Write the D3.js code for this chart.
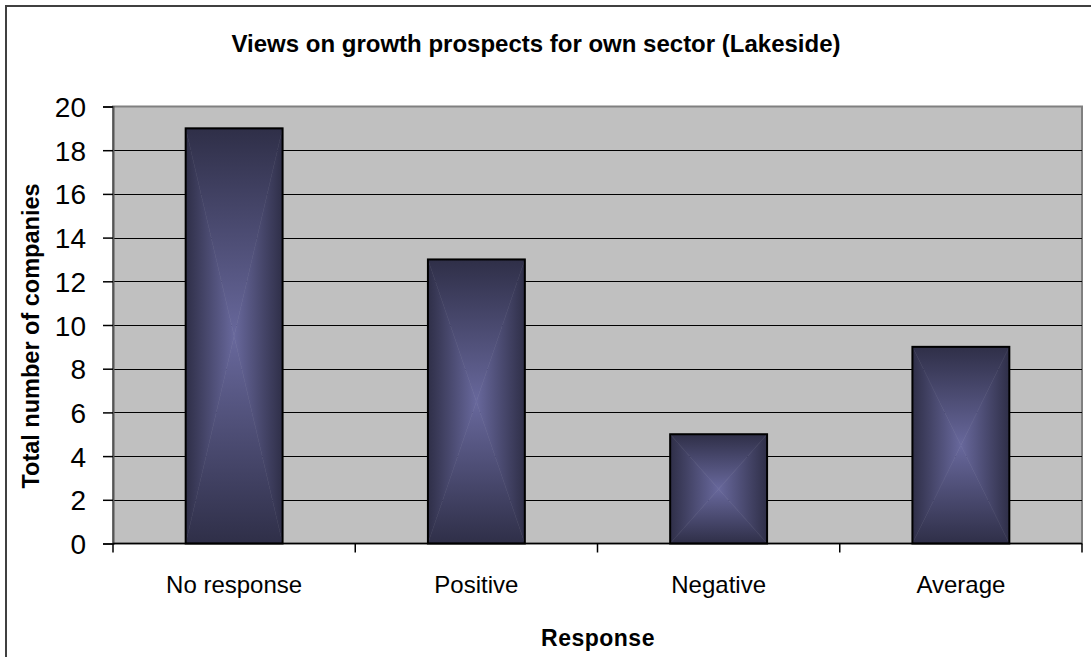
<!DOCTYPE html>
<html>
<head>
<meta charset="utf-8">
<script src="https://cdn.jsdelivr.net/npm/d3@7"></script>
<style>
  body { margin: 0; background: #fff; }
  svg text { font-family: "Liberation Sans", Arial, sans-serif; fill: #000; }
</style>
</head>
<body>
<div id="chart"></div>
<script>
// chart values
const categories = ['No response', 'Positive', 'Negative', 'Average'];
const values = [19, 13, 5, 9];
const yTicks = [0, 2, 4, 6, 8, 10, 12, 14, 16, 18, 20];

const width = 1091;
const height = 657;
const plot = { left: 113, right: 1082, top: 106.5, bottom: 543.5 };

const svg = d3.select('#chart').append('svg')
  .attr('width', width)
  .attr('height', height);

// box gradient pieces (edge dark -> centre light)
const edge = '#2f2f48';
const mid = '#68689c';
const defs = svg.append('defs');
const grads = {
  top: [0, 0, 0, 1],
  bottom: [0, 1, 0, 0],
  left: [0, 0, 1, 0],
  right: [1, 0, 0, 0],
};
Object.keys(grads).forEach((k) => {
  const [x1, y1, x2, y2] = grads[k];
  const g = defs.append('linearGradient')
    .attr('id', `grad-${k}`)
    .attr('x1', x1).attr('y1', y1).attr('x2', x2).attr('y2', y2);
  g.append('stop').attr('offset', 0).attr('stop-color', edge);
  g.append('stop').attr('offset', 1).attr('stop-color', mid);
});

// outer frame
svg.append('rect')
  .attr('x', 6).attr('y', 6)
  .attr('width', width + 10).attr('height', height + 10)
  .attr('fill', '#fff')
  .attr('stroke', '#404040')
  .attr('stroke-width', 2);

const x = d3.scaleBand()
  .domain(categories)
  .range([plot.left, plot.right])
  .paddingInner(0.6)
  .paddingOuter(0.3);

const y = d3.scaleLinear()
  .domain([0, 20])
  .range([plot.bottom, plot.top]);

// plot background
svg.append('rect')
  .attr('x', plot.left).attr('y', plot.top)
  .attr('width', plot.right - plot.left)
  .attr('height', plot.bottom - plot.top)
  .attr('fill', '#c0c0c0')
  .attr('stroke', '#808080')
  .attr('stroke-width', 2);

// gridlines
svg.append('g')
  .selectAll('line')
  .data(yTicks.filter((d) => d > 0 && d < 20))
  .join('line')
  .attr('x1', plot.left).attr('x2', plot.right)
  .attr('y1', (d) => Math.round(y(d)) + 0.5)
  .attr('y2', (d) => Math.round(y(d)) + 0.5)
  .attr('stroke', '#000')
  .attr('stroke-width', 1.2);

// bars
const bars = svg.append('g')
  .selectAll('g')
  .data(categories.map((c, i) => ({ c, v: values[i] })))
  .join('g');

bars.each(function (d) {
  const g = d3.select(this);
  const x0 = x(d.c);
  const x1 = x0 + x.bandwidth();
  const y0 = y(d.v);
  const y1 = y(0);
  const cx = (x0 + x1) / 2;
  const cy = (y0 + y1) / 2;
  const pieces = {
    top: [[x0, y0], [x1, y0], [cx, cy]],
    bottom: [[x0, y1], [x1, y1], [cx, cy]],
    left: [[x0, y0], [x0, y1], [cx, cy]],
    right: [[x1, y0], [x1, y1], [cx, cy]],
  };
  Object.keys(pieces).forEach((k) => {
    g.append('polygon')
      .attr('points', pieces[k].map((p) => p.join(',')).join(' '))
      .attr('fill', `url(#grad-${k})`)
      .attr('stroke', `url(#grad-${k})`)
      .attr('stroke-width', 0.5);
  });
  g.append('rect')
    .attr('x', x0).attr('y', y0)
    .attr('width', x1 - x0).attr('height', y1 - y0)
    .attr('fill', 'none')
    .attr('stroke', '#000')
    .attr('stroke-width', 2);
});

// y axis
const yAxis = svg.append('g')
  .attr('transform', `translate(${plot.left},0)`)
  .call(d3.axisLeft(y).tickValues(yTicks).tickSize(10).tickPadding(17));
yAxis.select('.domain').attr('stroke', '#555').attr('stroke-width', 2);
yAxis.selectAll('.tick line').attr('stroke', '#000').attr('stroke-width', 1.5);
yAxis.selectAll('.tick text')
  .style('font-size', '28px')
  .attr('dy', '0.36em');

// x axis
const xAxis = svg.append('g')
  .attr('transform', `translate(0,${plot.bottom})`);
xAxis.append('line')
  .attr('x1', plot.left).attr('x2', plot.right)
  .attr('y1', 0).attr('y2', 0)
  .attr('stroke', '#000').attr('stroke-width', 1.5);
const bounds = categories.map((c) => x(c) - x.step() * 0.3).concat([plot.right]);
xAxis.selectAll('line.tk')
  .data(bounds)
  .join('line')
  .attr('class', 'tk')
  .attr('x1', (d) => d).attr('x2', (d) => d)
  .attr('y1', 0).attr('y2', 9)
  .attr('stroke', '#000').attr('stroke-width', 1.5);
xAxis.selectAll('text.cat')
  .data(categories)
  .join('text')
  .attr('class', 'cat')
  .attr('x', (d) => x(d) + x.bandwidth() / 2)
  .attr('y', 49)
  .attr('text-anchor', 'middle')
  .style('font-size', '24px')
  .text((d) => d);

// titles
svg.append('text')
  .attr('x', 536).attr('y', 52)
  .attr('text-anchor', 'middle')
  .style('font-size', '24px')
  .style('font-weight', 'bold')
  .text('Views on growth prospects for own sector (Lakeside)');

svg.append('text')
  .attr('x', 598).attr('y', 646)
  .attr('text-anchor', 'middle')
  .style('font-size', '23px')
  .style('font-weight', 'bold')
  .style('letter-spacing', '0.5px')
  .text('Response');

svg.append('text')
  .attr('transform', 'translate(38.5,336) rotate(-90)')
  .attr('text-anchor', 'middle')
  .style('font-size', '23.5px')
  .style('font-weight', 'bold')
  .text('Total number of companies');
</script>
</body>
</html>
